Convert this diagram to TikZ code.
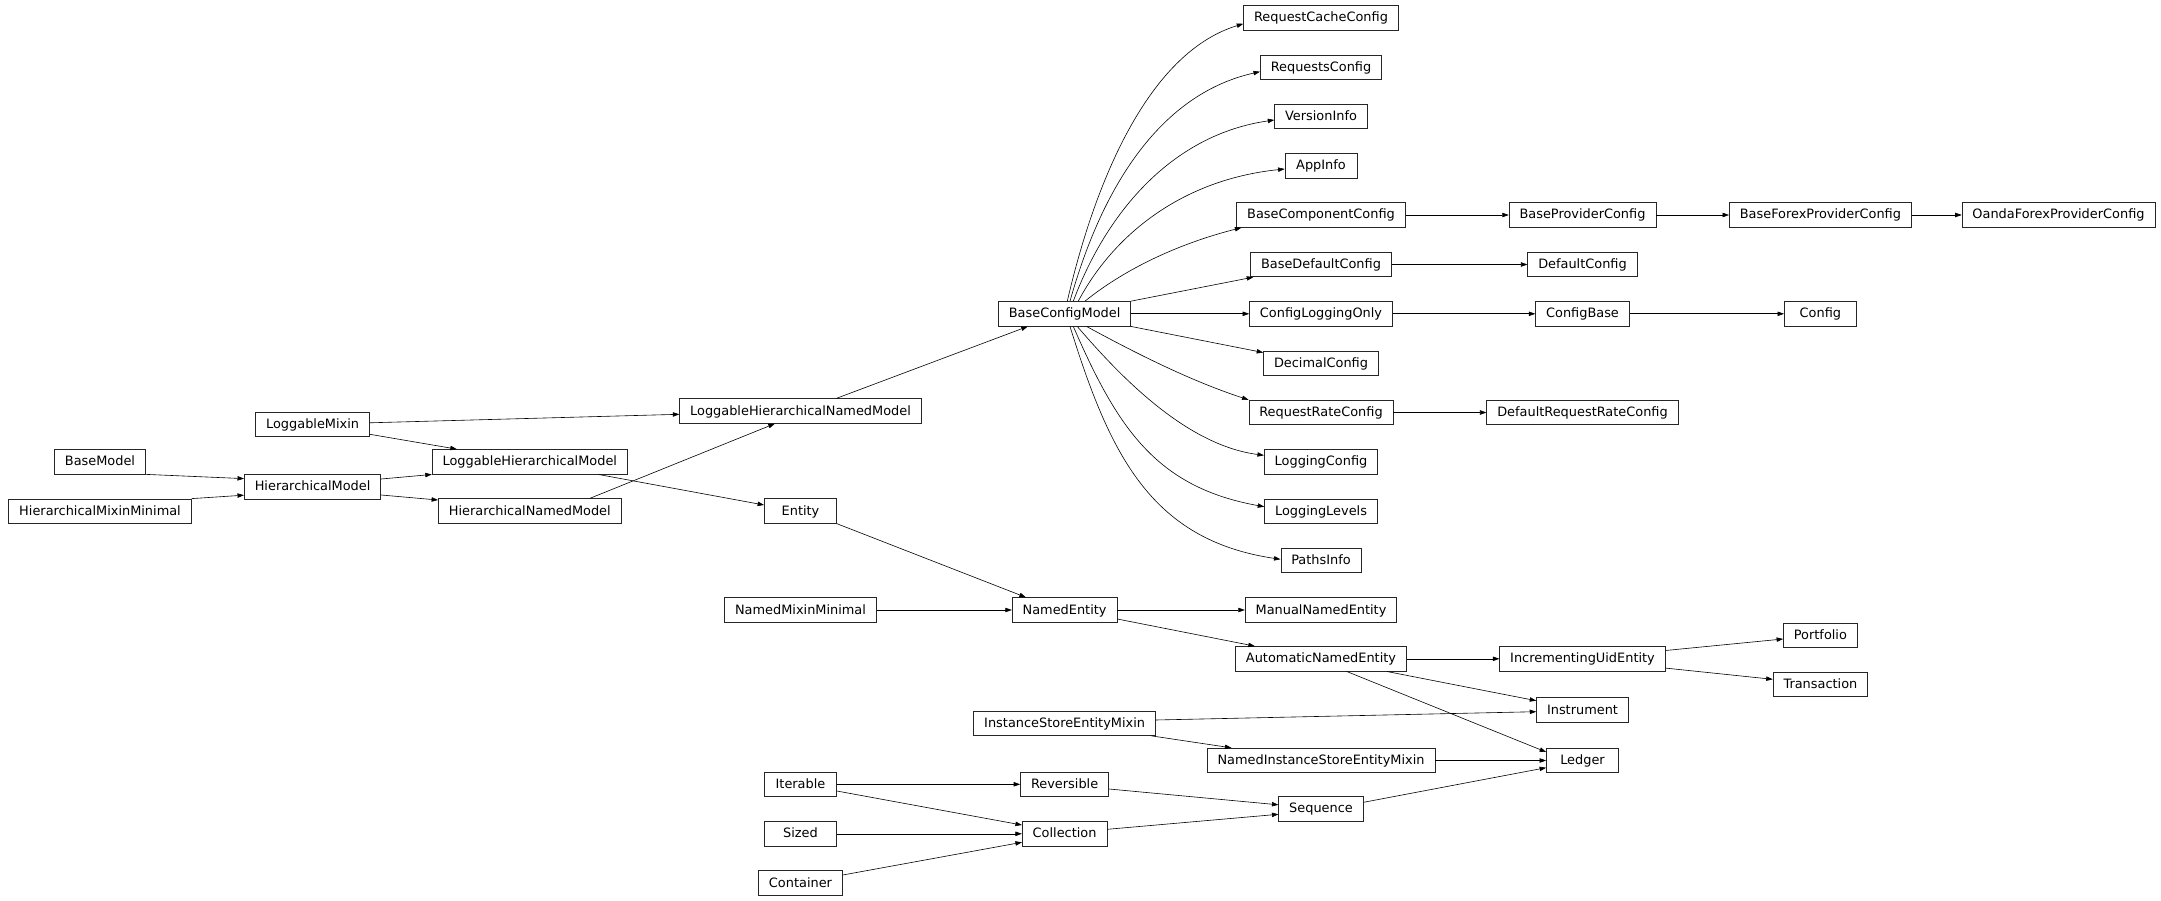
\documentclass[tikz,border=0pt]{standalone}
\usepackage{fontspec}
\setmainfont{DejaVu Sans}
\usetikzlibrary{arrows.meta,calc}
\begin{document}
\begin{tikzpicture}[x=1pt,y=-1pt,
  cls/.style={draw=black!85, line width=0.75pt, minimum width=72pt, minimum height=24.6pt,
    inner xsep=10.4pt, inner ysep=0pt, text height=10.5pt, text depth=2.5pt,
    font=\fontsize{12.9}{15}\selectfont},
  inh/.style={draw=black, line width=0.6pt, -{Triangle[length=6.5pt,width=4.4pt]}}]
\useasboundingbox (0,0) rectangle (2161,901);
% column x positions
\def\cA{100}\def\cB{312.6}\def\cC{529.8}\def\cD{800.5}\def\cE{1064.6}
\def\cF{1321}\def\cG{1582.5}\def\cH{1820.4}\def\cI{2058.5}
% nodes
\node[cls] (rcc)  at (\cF,17.8)  {RequestCacheConfig};
\node[cls] (rqc)  at (\cF,67.2)  {RequestsConfig};
\node[cls] (vi)   at (\cF,116.5) {VersionInfo};
\node[cls] (ai)   at (\cF,165.8) {AppInfo};
\node[cls] (bcc)  at (\cF,215)   {BaseComponentConfig};
\node[cls] (bpc)  at (\cG,215)   {BaseProviderConfig};
\node[cls] (bfpc) at (\cH,215)   {BaseForexProviderConfig};
\node[cls] (ofpc) at (\cI,215)   {OandaForexProviderConfig};
\node[cls] (bdc)  at (\cF,264.5) {BaseDefaultConfig};
\node[cls] (dc)   at (\cG,264.5) {DefaultConfig};
\node[cls] (bcm)  at (\cE,313.8) {BaseConfigModel};
\node[cls] (clo)  at (\cF,313.8) {ConfigLoggingOnly};
\node[cls] (cb)   at (\cG,313.8) {ConfigBase};
\node[cls] (cfg)  at (\cH,313.8) {Config};
\node[cls] (dec)  at (\cF,363.2) {DecimalConfig};
\node[cls] (rrc)  at (\cF,412.5) {RequestRateConfig};
\node[cls] (drrc) at (\cG,412.5) {DefaultRequestRateConfig};
\node[cls] (lc)   at (\cF,461.7) {LoggingConfig};
\node[cls] (ll)   at (\cF,511.2) {LoggingLevels};
\node[cls] (pi)   at (\cF,560.5) {PathsInfo};
\node[cls] (lm)   at (\cB,424.3) {LoggableMixin};
\node[cls] (lhnm) at (\cD,411)   {LoggableHierarchicalNamedModel};
\node[cls] (bm)   at (\cA,461.7) {BaseModel};
\node[cls] (lhm)  at (\cC,461.8) {LoggableHierarchicalModel};
\node[cls] (hm)   at (\cB,486.8) {HierarchicalModel};
\node[cls] (hmm)  at (\cA,511.3) {HierarchicalMixinMinimal};
\node[cls] (hnm)  at (\cC,511)   {HierarchicalNamedModel};
\node[cls] (ent)  at (\cD,511)   {Entity};
\node[cls] (nmm)  at (\cD,610)   {NamedMixinMinimal};
\node[cls] (ne)   at (\cE,610)   {NamedEntity};
\node[cls] (mne)  at (\cF,610)   {ManualNamedEntity};
\node[cls] (ane)  at (\cF,658.8) {AutomaticNamedEntity};
\node[cls] (iue)  at (\cG,658.8) {IncrementingUidEntity};
\node[cls] (pf)   at (\cH,635.3) {Portfolio};
\node[cls] (tr)   at (\cH,684.5) {Transaction};
\node[cls] (ins)  at (\cG,710)   {Instrument};
\node[cls] (isem) at (\cE,723.2) {InstanceStoreEntityMixin};
\node[cls] (nisem) at (\cF,760.5) {NamedInstanceStoreEntityMixin};
\node[cls] (led)  at (\cG,760.5) {Ledger};
\node[cls] (it)   at (\cD,784.3) {Iterable};
\node[cls] (rev)  at (\cE,784.3) {Reversible};
\node[cls] (seq)  at (\cF,808.8) {Sequence};
\node[cls] (sz)   at (\cD,833.8) {Sized};
\node[cls] (col)  at (\cE,833.8) {Collection};
\node[cls] (con)  at (\cD,883)   {Container};
% horizontal edges
\draw[inh] (bcc.east) -- (bpc.west);
\draw[inh] (bpc.east) -- (bfpc.west);
\draw[inh] (bfpc.east) -- (ofpc.west);
\draw[inh] (bdc.east) -- (dc.west);
\draw[inh] (bcm.east) -- (clo.west);
\draw[inh] (clo.east) -- (cb.west);
\draw[inh] (cb.east) -- (cfg.west);
\draw[inh] (rrc.east) -- (drrc.west);
\draw[inh] (nmm.east) -- (ne.west);
\draw[inh] (ne.east) -- (mne.west);
\draw[inh] (ane.east) -- (iue.west);
\draw[inh] (nisem.east) -- (led.west);
\draw[inh] (it.east) -- (rev.west);
\draw[inh] (sz.east) -- (col.west);
% fan from BaseConfigModel
\draw[inh] ($(bcm.north)+(2.7,0)$) .. controls (1094.3,184.1) and (1147.5,52.8) .. ($(rcc.west)+(0,6)$);
\draw[inh] ($(bcm.north)+(5.4,0)$) .. controls (1105.1,175.8) and (1166.6,92.5) .. ($(rqc.west)+(0,4.5)$);
\draw[inh] ($(bcm.north)+(8.7,0)$) .. controls (1107.3,210.5) and (1173.3,134.5) .. ($(vi.west)+(0,3.5)$);
\draw[inh] ($(bcm.north)+(13.7,0)$) .. controls (1113.4,235) and (1181.7,179.6) .. ($(ai.west)+(0,3.2)$);
\draw[inh] ($(bcm.north)+(20.4,0)$) .. controls (1129.5,265.4) and (1184.7,242.1) .. ($(bcc.south west)+(5,0)$);
\draw[inh] (bcm.north east) -- ($(bdc.south west)+(3,0)$);
\draw[inh] (bcm.south east) -- ($(dec.north west)+(0,2)$);
\draw[inh] ($(bcm.south)+(22,0)$) .. controls (1138.4,354.7) and (1191.7,381.2) .. (rrc.north west);
\draw[inh] ($(bcm.south)+(12.7,0)$) .. controls (1126,383.3) and (1189.4,445.5) .. ($(lc.west)+(0,-6.4)$);
\draw[inh] ($(bcm.south)+(8.7,0)$) .. controls (1117.2,427.2) and (1155.5,487.2) .. ($(ll.west)+(0,-4.5)$);
\draw[inh] ($(bcm.south)+(5.4,0)$) .. controls (1109.9,455) and (1151.1,540.1) .. ($(pi.west)+(0,-1.2)$);
% other edges
\draw[inh] (bm.south east) -- ($(hm.north west)+(0,4.5)$);
\draw[inh] (hmm.north east) -- ($(hm.south west)+(0,-4.3)$);
\draw[inh] ($(lm.east)+(0,10)$) -- ($(lhm.north west)+(25,0)$);
\draw[inh] ($(lm.east)+(0,-1.5)$) -- ($(lhnm.west)+(0,3.3)$);
\draw[inh] ($(hm.east)+(0,-7.8)$) -- (lhm.south west);
\draw[inh] ($(hm.east)+(0,8.2)$) -- ($(hnm.north west)+(0,1.7)$);
\draw[inh] ($(lhm.south east)+(-29.3,0)$) -- ($(ent.west)+(0,-6)$);
\draw[inh] ($(hnm.north east)+(-31.6,0)$) -- ($(lhnm.south)+(-25.7,0)$);
\draw[inh] ($(lhnm.north)+(36,0)$) -- ($(bcm.south west)+(29.7,0)$);
\draw[inh] (ent.south east) -- ($(ne.north west)+(14,0)$);
\draw[inh] ($(ne.east)+(0,9)$) -- ($(ane.north west)+(19.6,0)$);
\draw[inh] ($(ane.south east)+(-20,0)$) -- ($(ins.west)+(0,-9.3)$);
\draw[inh] ($(ane.south)+(25.7,0)$) -- ($(led.west)+(0,-8.5)$);
\draw[inh] ($(isem.east)+(0,-3.2)$) -- ($(ins.west)+(0,1.7)$);
\draw[inh] ($(isem.south east)+(-4.3,0)$) -- ($(nisem.north west)+(24.7,0)$);
\draw[inh] ($(seq.east)+(0,-6.5)$) -- ($(led.west)+(0,7.2)$);
\draw[inh] ($(it.east)+(0,6.7)$) -- ($(col.west)+(0,-8.8)$);
\draw[inh] ($(con.east)+(0,-8)$) -- ($(col.west)+(0,8.5)$);
\draw[inh] ($(rev.east)+(0,4.7)$) -- ($(seq.west)+(0,-4)$);
\draw[inh] ($(col.east)+(0,-4.5)$) -- ($(seq.west)+(0,5.5)$);
\draw[inh] ($(iue.east)+(0,-8.3)$) -- ($(pf.west)+(0,3.7)$);
\draw[inh] ($(iue.east)+(0,9.3)$) -- ($(tr.west)+(0,-5.2)$);
\end{tikzpicture}
\end{document}
